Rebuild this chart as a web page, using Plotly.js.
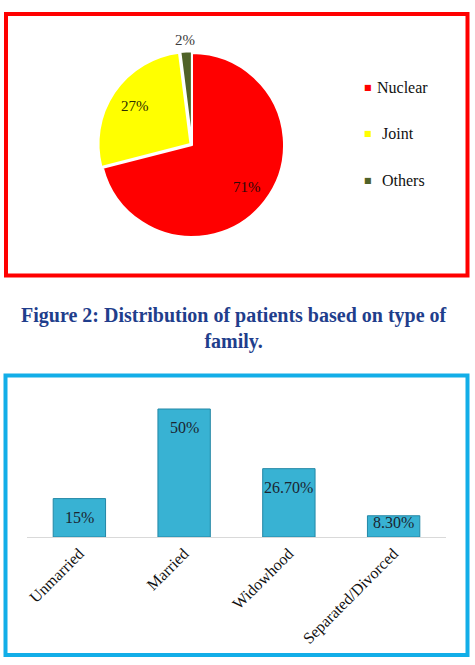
<!DOCTYPE html>
<html>
<head>
<meta charset="utf-8">
<script src="https://cdn.plot.ly/plotly-3.0.1.min.js"></script>
<style>
  html, body { margin: 0; padding: 0; background: #fff; }
  #fig { width: 475px; height: 665px; }
</style>
</head>
<body>
<div id="fig"></div>
<script>
// Type of family (pie)
const familyTypes = ['Nuclear', 'Joint', 'Others'];
const familyShares = [71, 27, 2];
const familyColors = ['#FF0000', '#FFFF00', '#4F6228'];

// Marital status (bars)
const maritalStatus = ['Unmarried', 'Married', 'Widowhood', 'Separated/Divorced'];
const maritalShares = [15, 50, 26.7, 8.3];

const captionText = 'Figure 2: Distribution of patients based on type of<br>family.';

const W = 475, H = 665;
const px = x => x / W;          // pixel -> paper x
const py = y => 1 - y / H;      // pixel -> paper y
const serif = 'Liberation Serif, Times New Roman, serif';

const fmtPct = v => (Number.isInteger(v) ? String(v) : v.toFixed(2)) + '%';

// pie geometry (pixels)
const PIE_CX = 192, PIE_CY = 145, PIE_R = 92;
const slicePull = [0, 0.02, 0.02];
const halfBox = PIE_R * (1 + Math.max(...slicePull));   // room for the pulled slices

const pie = {
  type: 'pie',
  labels: familyTypes,
  values: familyShares,
  sort: false,
  direction: 'clockwise',
  rotation: 0,
  marker: { colors: familyColors, line: { color: '#ffffff', width: 2 } },
  pull: slicePull,
  textinfo: 'none',
  hoverinfo: 'label+percent',
  showlegend: false,
  domain: { x: [px(PIE_CX - halfBox), px(PIE_CX + halfBox)], y: [py(PIE_CY + 130), py(PIE_CY - 130)] }
};

const bars = {
  type: 'bar',
  x: maritalStatus,
  y: maritalShares,
  xaxis: 'x', yaxis: 'y',
  marker: { color: '#38B2D3', line: { color: '#2387A6', width: 1 } },
  hoverinfo: 'x+y',
  showlegend: false
};

const annotations = [];

// percentage labels on the pie, placed at each slice's mid-angle
const total = familyShares.reduce((a, b) => a + b, 0);
const labelColors = ['#2b0808', '#2e2e00', '#3c3c3c'];
let cum = 0;
familyShares.forEach((v, i) => {
  const mid = (cum + v / 2) / total * 2 * Math.PI;   // clockwise from 12 o'clock
  cum += v;
  const dist = v / total < 0.05 ? 1.14 : 0.75;       // small slices get an outside label
  annotations.push({
    xref: 'paper', yref: 'paper',
    x: px(PIE_CX + Math.sin(mid) * PIE_R * dist),
    y: py(PIE_CY - Math.cos(mid) * PIE_R * dist),
    text: v + '%', showarrow: false, xanchor: 'center', yanchor: 'middle',
    font: { family: serif, size: 15, color: labelColors[i] }
  });
});

// legend for the pie
familyTypes.forEach((name, i) => {
  const yc = py(87 + i * 46.5);
  annotations.push({
    xref: 'paper', yref: 'paper', x: px(368), y: yc,
    text: '■', showarrow: false, xanchor: 'center', yanchor: 'middle',
    font: { family: 'DejaVu Sans', size: 8, color: familyColors[i] }
  });
  annotations.push({
    xref: 'paper', yref: 'paper', x: px(i === 0 ? 375 : 380), y: yc,
    text: name, showarrow: false, xanchor: 'left', yanchor: 'middle',
    font: { family: serif, size: 16, color: '#111' }
  });
});

// value labels on the bars
maritalStatus.forEach((cat, i) => {
  const v = maritalShares[i];
  annotations.push({
    xref: 'x', yref: 'y', x: cat, y: v,
    text: fmtPct(v), showarrow: false, xanchor: 'center', yanchor: 'top',
    yshift: v > 10 ? -8 : 4,
    font: { family: serif, size: 16, color: '#1b2530' }
  });
});

// figure caption
annotations.push({
  xref: 'paper', yref: 'paper', x: px(233.5), y: py(302),
  text: captionText, showarrow: false, xanchor: 'center', yanchor: 'top',
  align: 'center',
  font: { family: serif, size: 20, color: '#1F3E8C', weight: 700 }
});

const layout = {
  width: W, height: H,
  margin: { l: 0, r: 0, t: 0, b: 0 },
  paper_bgcolor: '#ffffff',
  plot_bgcolor: 'rgba(0,0,0,0)',
  showlegend: false,
  xaxis: {
    type: 'category',
    domain: [px(27), px(446)],
    anchor: 'y',
    showline: true, linecolor: '#D9D9D9', linewidth: 1,
    showgrid: false, zeroline: false,
    ticks: '', tickangle: -45,
    tickfont: { family: serif, size: 16, color: '#111' }
  },
  yaxis: {
    domain: [py(537), py(396.2)],
    range: [0, 55],
    anchor: 'x',
    visible: false
  },
  bargap: 0.5,
  annotations: annotations,
  shapes: [
    { type: 'rect', xref: 'paper', yref: 'paper', x0: px(6), x1: px(467.5), y0: py(14), y1: py(275.5),
      line: { color: '#FF0000', width: 4 }, fillcolor: 'rgba(0,0,0,0)' },
    { type: 'rect', xref: 'paper', yref: 'paper', x0: px(5.5), x1: px(467.5), y0: py(375.5), y1: py(655),
      line: { color: '#12AEE8', width: 4 }, fillcolor: 'rgba(0,0,0,0)' }
  ]
};

Plotly.newPlot('fig', [pie, bars], layout, { staticPlot: true, displayModeBar: false });
</script>
</body>
</html>
